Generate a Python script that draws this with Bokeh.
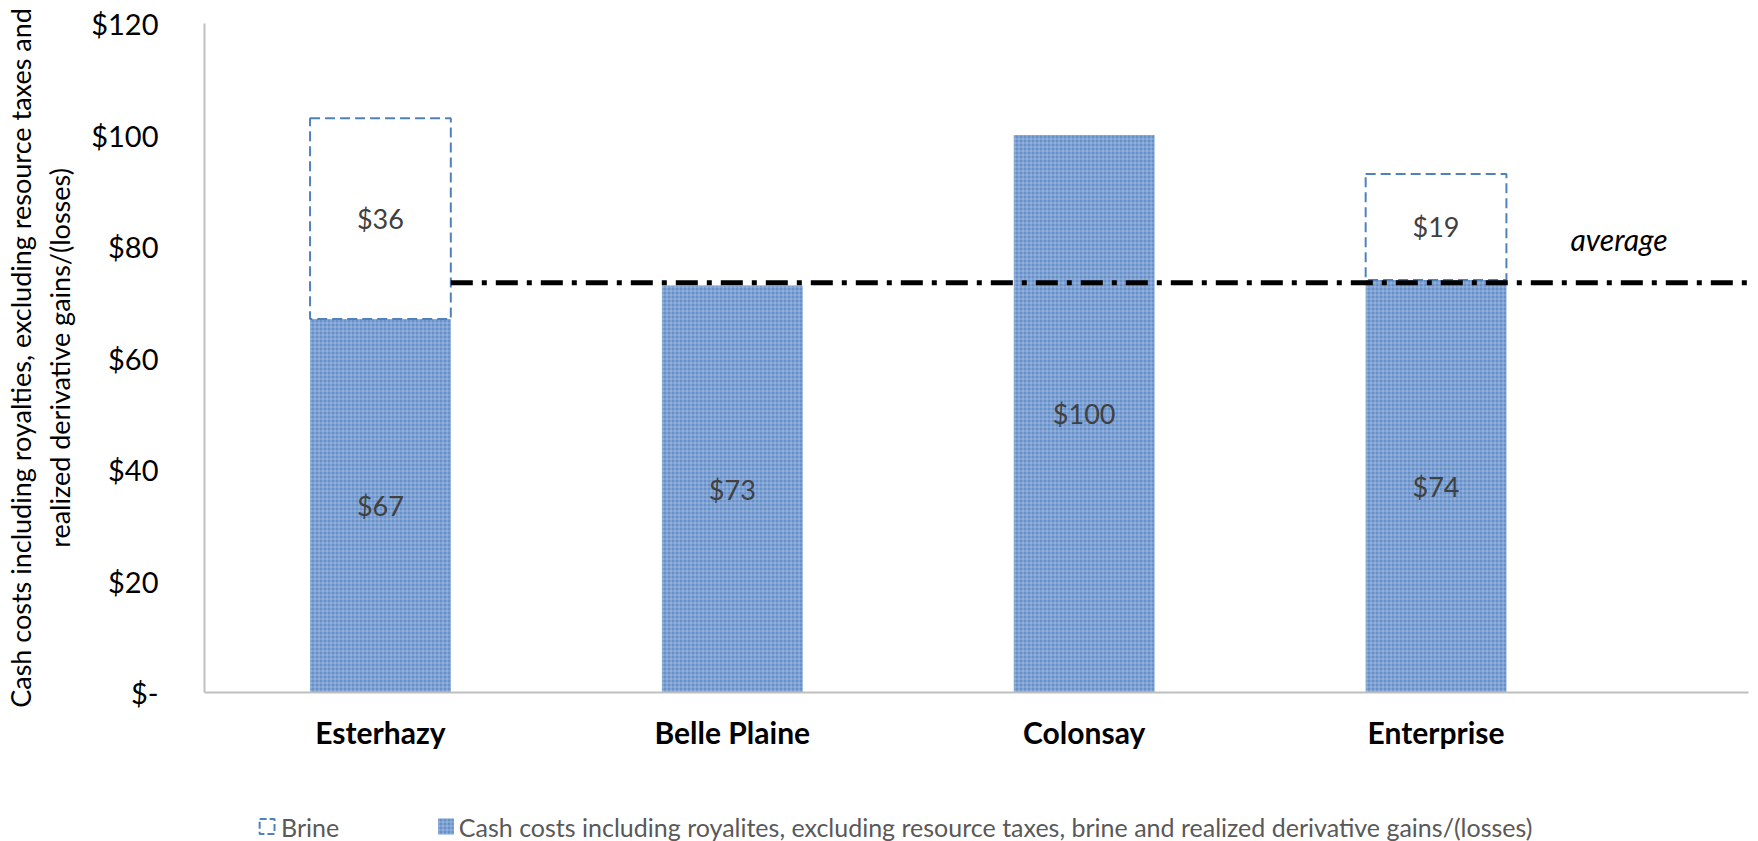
from bokeh.plotting import figure
from bokeh.layouts import column
from bokeh.models import (Range1d, FixedTicker, Label, ColumnDataSource)
from bokeh.core.properties import value
from bokeh.embed import file_html
from bokeh.resources import INLINE

# ---------------- data ----------------
categories = ["Esterhazy", "Belle Plaine", "Colonsay", "Enterprise"]
cash_costs = [67, 73, 100, 74]
brine = [36, 0, 0, 19]
average_value = 73.5
y_ticks = [0, 20, 40, 60, 80, 100, 120]
y_tick_labels = ["$-", "$20", "$40", "$60", "$80", "$100", "$120"]
cash_label = "Cash costs including royalites, excluding resource taxes, brine and realized derivative gains/(losses)"
brine_label = "Brine"
y_title_lines = ["Cash costs including royalties, excluding resource taxes and",
                 "realized derivative gains/(losses)"]

FONT = "Lato"
BLUE = "#6690CA"
BRINE_LINE = "#4F81BD"
BAR_W = 0.4
X_MAX = 4.388
W = 1758
H_MAIN = 811
H_LEG = 30
LEFT = 194
RIGHT_PAD = 10

xs = [i + 0.5 for i in range(len(categories))]

p = figure(width=W, height=H_MAIN, output_backend="svg", toolbar_location=None,
           x_range=Range1d(0, X_MAX), y_range=Range1d(0, 120),
           min_border_left=LEFT, min_border_right=RIGHT_PAD, min_border_top=23,
           min_border_bottom=119)
p.outline_line_color = None
p.background_fill_color = "white"
p.grid.visible = False

# axes
p.yaxis.ticker = FixedTicker(ticks=y_ticks)
p.yaxis.major_label_overrides = {t: l for t, l in zip(y_ticks, y_tick_labels)}
p.yaxis.axis_line_color = "#BFBFBF"
p.yaxis.axis_line_width = 2
p.yaxis.major_tick_line_color = None
p.yaxis.minor_tick_line_color = None
p.yaxis.major_label_text_font = FONT
p.yaxis.major_label_text_font_size = "29px"
p.yaxis.major_label_text_color = "#000000"
p.yaxis.major_label_standoff = 40
p.yaxis.axis_label = "\n".join(y_title_lines)
p.yaxis.axis_label_text_font = FONT
p.yaxis.axis_label_text_font_style = "normal"
p.yaxis.axis_label_text_font_size = "27px"
p.yaxis.axis_label_text_color = "#000000"
p.yaxis.axis_label_standoff = 12

p.xaxis.ticker = FixedTicker(ticks=xs)
p.xaxis.major_label_overrides = {x: c for x, c in zip(xs, categories)}
p.xaxis.axis_line_color = "#BFBFBF"
p.xaxis.axis_line_width = 2
p.xaxis.major_tick_line_color = None
p.xaxis.minor_tick_line_color = None
p.xaxis.major_label_text_font = FONT
p.xaxis.major_label_text_font_style = "bold"
p.xaxis.major_label_text_font_size = "30px"
p.xaxis.major_label_text_color = "#000000"
p.xaxis.major_label_standoff = 15

src = ColumnDataSource(dict(
    x=xs, cash=cash_costs,
    cash_mid=[c / 2 for c in cash_costs],
    cash_txt=["$%d" % c for c in cash_costs],
))

p.vbar(x="x", width=BAR_W, bottom=0, top="cash", source=src,
       fill_color=BLUE, line_color=None,
       hatch_pattern="cross", hatch_color="white", hatch_alpha=0.3,
       hatch_scale=4, hatch_weight=1)

bsrc = ColumnDataSource(dict(
    x=[x for x, b in zip(xs, brine) if b > 0],
    bottom=[c for c, b in zip(cash_costs, brine) if b > 0],
    top=[c + b for c, b in zip(cash_costs, brine) if b > 0],
    mid=[c + b / 2 for c, b in zip(cash_costs, brine) if b > 0],
    txt=["$%d" % b for b in brine if b > 0],
))
p.vbar(x="x", width=BAR_W, bottom="bottom", top="top", source=bsrc,
       fill_color=None, line_color=BRINE_LINE, line_width=2, line_dash="10 5")

# average line from right edge of first bar to end of frame
avg_x = [xs[0] + BAR_W / 2, X_MAX]
p.line(avg_x, [average_value, average_value], line_color="black", line_width=5,
       line_dash="22 9 5 9")

# data labels
p.text(x="x", y="cash_mid", text="cash_txt", source=src, text_align="center",
       text_baseline="middle", text_font=value(FONT), text_font_size="27px",
       text_color="#404040")
p.text(x="x", y="mid", text="txt", source=bsrc, text_align="center",
       text_baseline="middle", text_font=value(FONT), text_font_size="27px",
       text_color="#404040")

p.add_layout(Label(x=4.02, y=81.3, text="average", text_align="center",
                   text_baseline="middle", text_font=FONT, text_font_style="italic",
                   text_font_size="30px", text_color="#000000"))

# ---------------- legend (separate strip; x range = page pixels of the frame) ----------------
leg = figure(width=W, height=H_LEG, output_backend="svg", toolbar_location=None,
             x_range=Range1d(LEFT, W - RIGHT_PAD), y_range=Range1d(0, H_LEG),
             min_border_left=LEFT, min_border_right=RIGHT_PAD, min_border_top=0,
             min_border_bottom=0, x_axis_type=None, y_axis_type=None)
leg.outline_line_color = None
leg.grid.visible = False

leg_icon_x = [257, 437]
leg_text_x = [271, 450]
leg_y = 15
leg.rect(x=[leg_icon_x[0]], y=[leg_y], width=15, height=15, fill_color=None,
         line_color=BRINE_LINE, line_width=2, line_dash="7 3")
leg.rect(x=[leg_icon_x[1]], y=[leg_y], width=16, height=16, fill_color=BLUE,
         line_color=None, hatch_pattern="cross", hatch_color="white",
         hatch_alpha=0.3, hatch_scale=4, hatch_weight=1)
leg.text(x=leg_text_x, y=[leg_y, leg_y], text=[brine_label, cash_label],
         text_align="left", text_baseline="middle", text_font=value(FONT),
         text_font_size="25px", text_color="#595959")

open("out.html", "w").write(file_html(column(p, leg, spacing=0), INLINE))
